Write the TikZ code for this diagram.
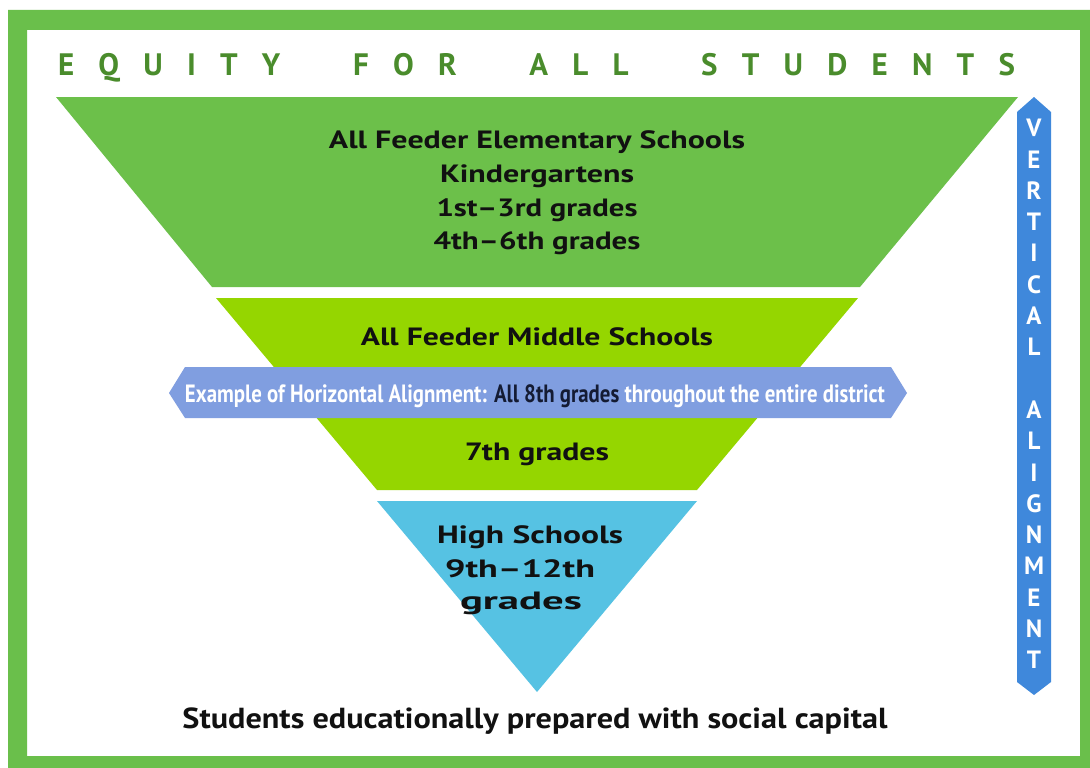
\documentclass[tikz,border=0pt]{standalone}
\usepackage{fontspec}
\setmainfont{PT Sans}
\usepackage{graphicx}

\definecolor{framegreen}{HTML}{6ABF4B}
\definecolor{titlegreen}{HTML}{4A8C2C}
\definecolor{elemgreen}{HTML}{6CC04A}
\definecolor{midlime}{HTML}{95D600}
\definecolor{highblue}{HTML}{56C2E3}
\definecolor{horizblue}{HTML}{809EE0}
\definecolor{vertblue}{HTML}{3F88DB}
\definecolor{textdark}{HTML}{111111}
\definecolor{navy}{HTML}{141B33}

\newcommand{\fitw}[2]{\resizebox{#1}{\height}{#2}}
\newcommand{\wgap}{\hfill\hfill\hfill}

\tikzset{
  titletext/.style={font=\fontsize{31}{31}\selectfont\bfseries, text=titlegreen, inner sep=0pt, anchor=base},
  bandtext/.style={font=\fontsize{25}{25}\selectfont\bfseries, text=textdark, inner sep=0pt, anchor=base},
  arrowtext/.style={font=\fontsize{25}{25}\selectfont\bfseries, text=white, inner sep=0pt, anchor=base},
  vletter/.style={font=\fontsize{25}{25}\selectfont\bfseries, text=white, inner sep=0pt},
}

\begin{document}
\begin{tikzpicture}[x=1pt,y=-1pt]
  \useasboundingbox (0,0) rectangle (1090,768);
  \fill[white] (0,0) rectangle (1090,768);
  % green frame
  \fill[framegreen,even odd rule] (8,10) rectangle (1090,768) (27,30) rectangle (1080,756);

  % title
  \node[titletext] (title) at (536.5,76) {\makebox[957pt]{E\hfill Q\hfill U\hfill I\hfill T\hfill Y\wgap
    F\hfill O\hfill R\wgap A\hfill L\hfill L\wgap S\hfill T\hfill U\hfill D\hfill E\hfill N\hfill T\hfill S}};

  % the three bands
  \fill[elemgreen] (56,97) -- (1018,97) -- (860,287) -- (212,287) -- cycle;
  \fill[midlime] (216,298) -- (858,298) -- (697,490) -- (377,490) -- cycle;
  \fill[highblue] (377,501) -- (697,501) -- (537,692) -- cycle;

  \node[bandtext] (elem1) at (537,149) {\fitw{416pt}{All Feeder Elementary Schools}};
  \node[bandtext] (elem2) at (537,182) {\fitw{194pt}{Kindergartens}};
  \node[bandtext] (elem3) at (537,216) {\fitw{201pt}{1st–3rd grades}};
  \node[bandtext] (elem4) at (537,249) {\fitw{207pt}{4th–6th grades}};

  \node[bandtext] (mid1) at (537,345) {\fitw{352pt}{All Feeder Middle Schools}};
  \node[bandtext] (mid2) at (537,460) {\fitw{144pt}{7th grades}};

  \node[bandtext] (high1) at (530,543) {\fitw{186pt}{High Schools}};
  \node[bandtext] (high2) at (520,577) {\fitw{150pt}{9th–12th}};
  \node[bandtext] (high3) at (521,609) {\fitw{122pt}{grades}};

  % horizontal alignment arrow
  \fill[horizblue] (169,393) -- (185,367) -- (891,367) -- (907,393) -- (891,418) -- (185,418) -- cycle;
  \node[arrowtext] (horiz) at (535,402) {\fitw{700pt}{Example of Horizontal Alignment: {\color{navy}All 8th grades} throughout the entire district}};

  % vertical alignment arrow
  \fill[vertblue] (1034,97) -- (1051,112) -- (1051,682) -- (1034,695) -- (1017,682) -- (1017,112) -- cycle;
  \foreach \l [count=\k from 0] in {V,E,R,T,I,C,A,L}
    \node[vletter] (v\k) at (1034,128+\k*31.3) {\l};
  \foreach \l [count=\k from 9] in {A,L,I,G,N,M,E,N,T}
    \node[vletter] (a\k) at (1034,128+\k*31.3) {\l};

  % bottom line
  \node[bandtext, font=\fontsize{29}{29}\selectfont\bfseries] (outcome) at (535,728)
    {\fitw{705pt}{Students educationally prepared with social capital}};
\end{tikzpicture}
\end{document}
